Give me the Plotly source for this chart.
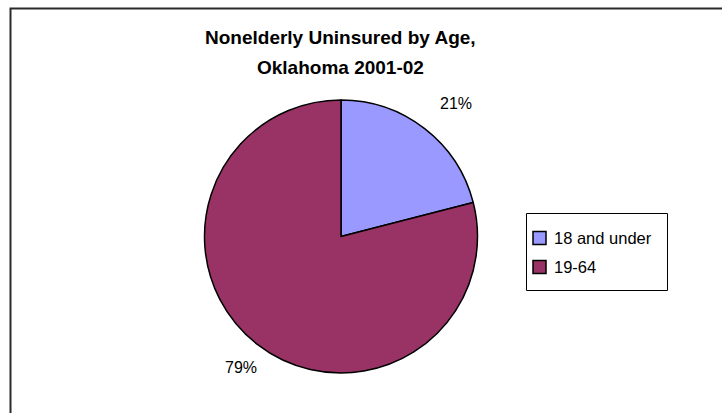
import plotly.graph_objects as go

# Nonelderly uninsured by age group, Oklahoma 2001-02 (percent)
categories = ["18 and under", "19-64"]
shares = [21, 79]
slice_colors = ["#9999FF", "#993366"]
title_lines = ["Nonelderly Uninsured by Age,", "Oklahoma 2001-02"]

W, H = 722, 413

def px(x):
    return x / W

def py(y):
    return 1 - y / H

fig = go.Figure()

fig.add_trace(go.Pie(
    labels=categories,
    values=shares,
    sort=False,
    direction="clockwise",
    rotation=0,
    textinfo="none",
    hoverinfo="label+percent",
    marker=dict(colors=slice_colors, line=dict(color="#000000", width=1.5)),
    domain=dict(x=[px(204.5), px(477.5)], y=[py(373), py(100)]),
    showlegend=False,
))

font_family = "Liberation Sans, Arial, sans-serif"

annotations = []

# Two-line bold chart title
for line, ty in zip(title_lines, [37, 68]):
    annotations.append(dict(
        text=f"<b>{line}</b>", x=px(340), y=py(ty), xref="paper", yref="paper",
        showarrow=False, xanchor="center", yanchor="middle",
        font=dict(family=font_family, size=19, color="#000000"),
    ))

# Percentage labels outside the slices
label_pos = [(456, 104), (241, 367)]
for val, (lx, ly) in zip(shares, label_pos):
    annotations.append(dict(
        text=f"{val}%", x=px(lx), y=py(ly), xref="paper", yref="paper",
        showarrow=False, xanchor="center", yanchor="middle",
        font=dict(family=font_family, size=16, color="#000000"),
    ))

shapes = [
    # chart-area frame
    dict(type="rect", xref="paper", yref="paper",
         x0=px(10.5), x1=px(W + 5), y0=py(H + 5), y1=py(8.5),
         line=dict(color="#2a2a2a", width=2), fillcolor="rgba(0,0,0,0)"),
    # legend box
    dict(type="rect", xref="paper", yref="paper",
         x0=px(526.5), x1=px(667.5), y0=py(290.5), y1=py(213.5),
         line=dict(color="#000000", width=1), fillcolor="#FFFFFF"),
]

# Legend entries: swatch + label
row_y = [238, 267]
for name, color, ry in zip(categories, slice_colors, row_y):
    shapes.append(dict(
        type="rect", xref="paper", yref="paper",
        x0=px(533), x1=px(546), y0=py(ry + 6.5), y1=py(ry - 6.5),
        line=dict(color="#000000", width=1.5), fillcolor=color,
    ))
    annotations.append(dict(
        text=name, x=px(552), y=py(ry), xref="paper", yref="paper",
        showarrow=False, xanchor="left", yanchor="middle",
        font=dict(family=font_family, size=16.5, color="#000000"),
    ))

fig.update_layout(
    width=W, height=H,
    margin=dict(l=0, r=0, t=0, b=0),
    paper_bgcolor="#FFFFFF",
    plot_bgcolor="#FFFFFF",
    shapes=shapes,
    annotations=annotations,
)

fig.write_html("out.html")
